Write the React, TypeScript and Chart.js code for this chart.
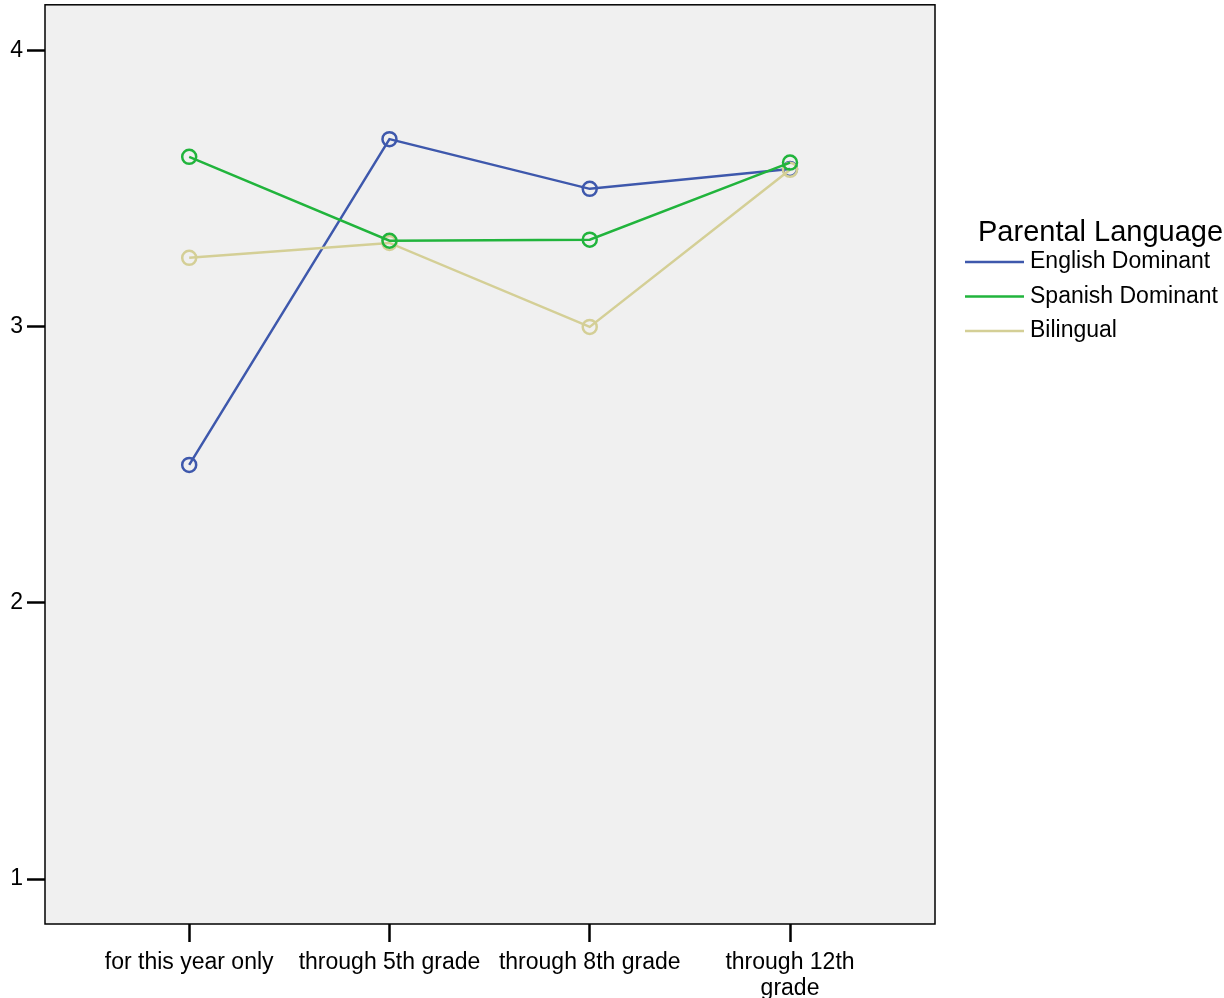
import React, { useEffect, useRef } from "react";
import { Chart, registerables } from "chart.js";

Chart.register(...registerables);

const categories: (string | string[])[] = [
  "for this year only",
  "through 5th grade",
  "through 8th grade",
  ["through 12th", "grade"],
];
const englishDominant = [2.5, 3.68, 3.5, 3.572];
const spanishDominant = [3.616, 3.312, 3.316, 3.595];
const bilingual = [3.25, 3.304, 3.0, 3.569];
const yTicks = [1, 2, 3, 4];
const seriesNames = ["English Dominant", "Spanish Dominant", "Bilingual"];
const seriesColors = ["#3E58AC", "#21B43C", "#D4CF96"];
const legendTitle = "Parental Language";

const FONT = "'Liberation Sans', Arial, sans-serif";
const SHIFT = 13;

export default function App() {
  const ref = useRef<HTMLCanvasElement | null>(null);

  useEffect(() => {
    document.body.style.margin = "0";
    const canvas = ref.current;
    if (!canvas) return;

    const frame = {
      id: "frame",
      beforeDatasetsDraw(chart: any) {
        const { ctx, chartArea } = chart;
        ctx.save();
        ctx.fillStyle = "#F0F0F0";
        ctx.fillRect(chartArea.left, chartArea.top, chartArea.right - chartArea.left, chartArea.bottom - chartArea.top);
        ctx.strokeStyle = "#000";
        ctx.lineWidth = 1.5;
        ctx.strokeRect(chartArea.left, chartArea.top, chartArea.right - chartArea.left, chartArea.bottom - chartArea.top);
        ctx.restore();
      },
      afterDraw(chart: any) {
        const { ctx } = chart;
        ctx.save();
        ctx.fillStyle = "#000";
        ctx.textBaseline = "alphabetic";
        ctx.textAlign = "left";
        ctx.font = `29px ${FONT}`;
        ctx.fillText(legendTitle, 978, 241 + SHIFT);
        ctx.font = `23px ${FONT}`;
        seriesNames.forEach((name, i) => {
          const y = 262 + i * 34.5 + SHIFT;
          ctx.strokeStyle = seriesColors[i];
          ctx.lineWidth = 2.5;
          ctx.beginPath();
          ctx.moveTo(965, y);
          ctx.lineTo(1024, y);
          ctx.stroke();
          ctx.fillStyle = "#000";
          ctx.textBaseline = "middle";
          ctx.fillText(name, 1030, y);
        });
        ctx.restore();
      },
    };

    const mk = (label: string, data: number[], color: string) => ({
      label,
      data: data.map((v, i) => ({ x: i, y: v })),
      borderColor: color,
      backgroundColor: color,
      borderWidth: 2.5,
      pointRadius: 7,
      pointHoverRadius: 7,
      pointBorderWidth: 2.5,
      pointBackgroundColor: "rgba(0,0,0,0)",
      pointBorderColor: color,
      tension: 0,
    });

    const chart = new Chart(canvas, {
      type: "line",
      data: {
        datasets: [
          mk(seriesNames[1], spanishDominant, seriesColors[1]),
          mk(seriesNames[2], bilingual, seriesColors[2]),
          mk(seriesNames[0], englishDominant, seriesColors[0]),
        ],
      },
      options: {
        animation: false,
        responsive: false,
        devicePixelRatio: 1,
        layout: { padding: { top: 0, right: 289, left: 0, bottom: 0 } },
        plugins: { legend: { display: false }, tooltip: { enabled: false } },
        scales: {
          x: {
            type: "linear",
            min: -0.72,
            max: 3.724,
            afterBuildTicks(scale: any) {
              scale.ticks = categories.map((_, i) => ({ value: i }));
            },
            afterFit(scale: any) {
              scale.height = 74;
              scale.paddingLeft = 0;
              scale.paddingRight = 0;
            },
            ticks: {
              callback: (v: any) => categories[v as number] as any,
              color: "#000",
              font: { family: FONT, size: 23, lineHeight: 1.15 },
              padding: 7,
              maxRotation: 0,
              autoSkip: false,
            },
            grid: {
              drawOnChartArea: false,
              drawTicks: true,
              tickLength: 18,
              tickWidth: 2.5,
              tickColor: "#000",
            },
            border: { display: false },
          },
          y: {
            type: "linear",
            min: 0.837,
            max: 4.1667,
            afterBuildTicks(scale: any) {
              scale.ticks = yTicks.map((v) => ({ value: v }));
            },
            afterFit(scale: any) {
              scale.width = 45;
            },
            ticks: {
              color: "#000",
              font: { family: FONT, size: 23 },
              padding: 4,
            },
            grid: {
              drawOnChartArea: false,
              drawTicks: true,
              tickLength: 18,
              tickWidth: 2.5,
              tickColor: "#000",
            },
            border: { display: false },
          },
        },
      },
      plugins: [frame],
    } as any);

    return () => chart.destroy();
  }, []);

  return (
    <div style={{ position: "absolute", left: 0, top: 0, width: 1224, height: 998, background: "#fff", overflow: "hidden" }}>
      <canvas
        ref={ref}
        width={1224}
        height={998 + SHIFT}
        style={{ display: "block", position: "absolute", left: 0, top: -SHIFT, width: 1224, height: 998 + SHIFT }}
      />
    </div>
  );
}
